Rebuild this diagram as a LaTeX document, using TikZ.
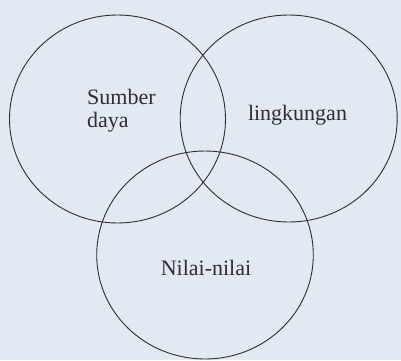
\documentclass[tikz,border=0pt]{standalone}
\usepackage{fontspec}
\setmainfont{Liberation Serif}
\definecolor{bg}{RGB}{226,233,243}
\definecolor{ink}{RGB}{45,45,50}
\begin{document}
\begin{tikzpicture}[x=1pt,y=1pt,
  ring/.style={draw=ink,line width=0.9pt},
  lbl/.style={text=ink,font=\fontsize{22}{25}\selectfont,inner sep=0pt}]
\fill[bg] (0,0) rectangle (401,360);
\useasboundingbox (0,0) rectangle (401,360);
\draw[ring] (117.5,241) ellipse [x radius=108, y radius=104];
\draw[ring] (288.7,241.5) ellipse [x radius=108.5, y radius=103.5];
\draw[ring] (205,105) ellipse [x radius=108.3, y radius=104];
\node[lbl,anchor=west] (sumber) at (87,263.5) {Sumber};
\node[lbl,anchor=west] (daya) at (87,238) {daya};
\node[lbl] (lingkungan) at (297.5,245) {lingkungan};
\node[lbl] (nilai) at (206,92) {Nilai-nilai};
\end{tikzpicture}
\end{document}
